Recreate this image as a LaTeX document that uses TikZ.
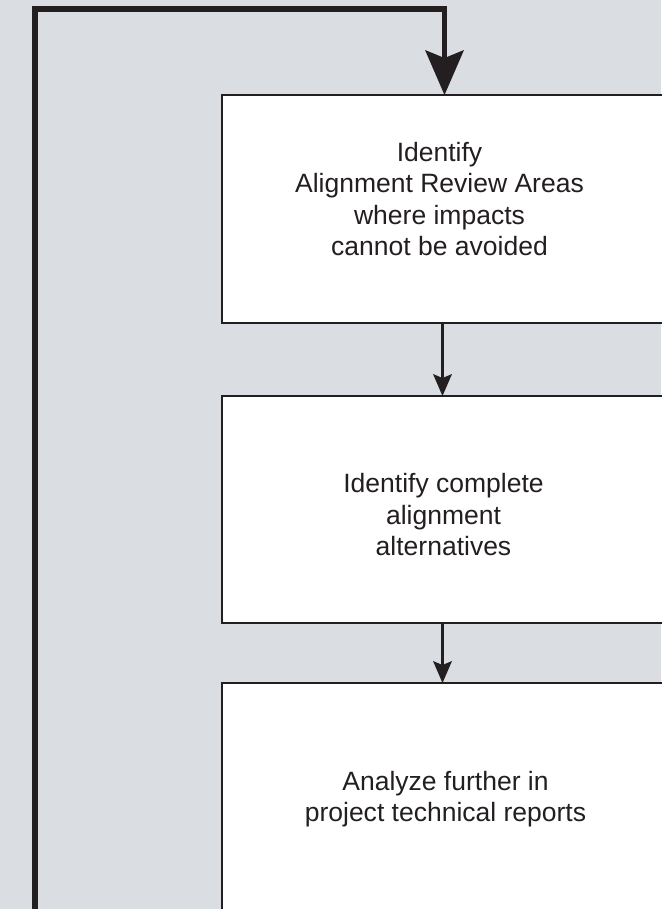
\documentclass[tikz,border=0pt]{standalone}
\usepackage{fontspec}
\setmainfont{Liberation Sans}
\usetikzlibrary{arrows.meta}

\definecolor{panelgray}{RGB}{218,221,226}
\definecolor{inkblack}{RGB}{35,31,32}

\tikzset{
    stagebox/.style={draw=inkblack, fill=white, line width=2.7pt, minimum width=441pt, inner sep=0pt, outer sep=0pt},
    stagetext/.style={align=center, inner sep=0pt, text=inkblack, font=\fontsize{26.5}{31.5}\selectfont},
    steparrow/.style={draw=inkblack, line width=2.6pt, -{Stealth[length=22pt, width=19pt, inset=4pt, line width=0pt]}},
    looparrow/.style={draw=inkblack, line width=5.3pt, -{Stealth[length=45pt, width=39pt, inset=8pt, line width=0pt]}},
}

\begin{document}
\begin{tikzpicture}[x=1pt, y=-1pt]
    % Background
    \fill[panelgray] (0,0) rectangle (661,909);
    \useasboundingbox (0,0) rectangle (661,909);

    % Boxes
    \node[stagebox, minimum height=228pt] (areas) at (442.5, 209) {};
    \node[stagebox, minimum height=227pt] (complete) at (442.5, 509.5) {};
    \node[stagebox, minimum height=260pt] (further) at (442.5, 813) {};

    % Box texts
    \node[stagetext] (areastext) at (439.5, 199) {Identify\\Alignment Review Areas\\where impacts\\cannot be avoided};
    \node[stagetext] (completetext) at (443.5, 515) {Identify complete\\alignment\\alternatives};
    \node[stagetext] (furthertext) at (445.5, 799) {Analyze further in\\project technical reports};

    % Steps
    \draw[steparrow] (areas) -- (complete);
    \draw[steparrow] (complete) -- (further);

    % Loop back to the top
    \coordinate (loopstart) at (35, 920);
    \coordinate (looptop) at (444.5, 9);
    \draw[looparrow] (loopstart) |- (looptop) -- (looptop |- areas.north);
\end{tikzpicture}
\end{document}
